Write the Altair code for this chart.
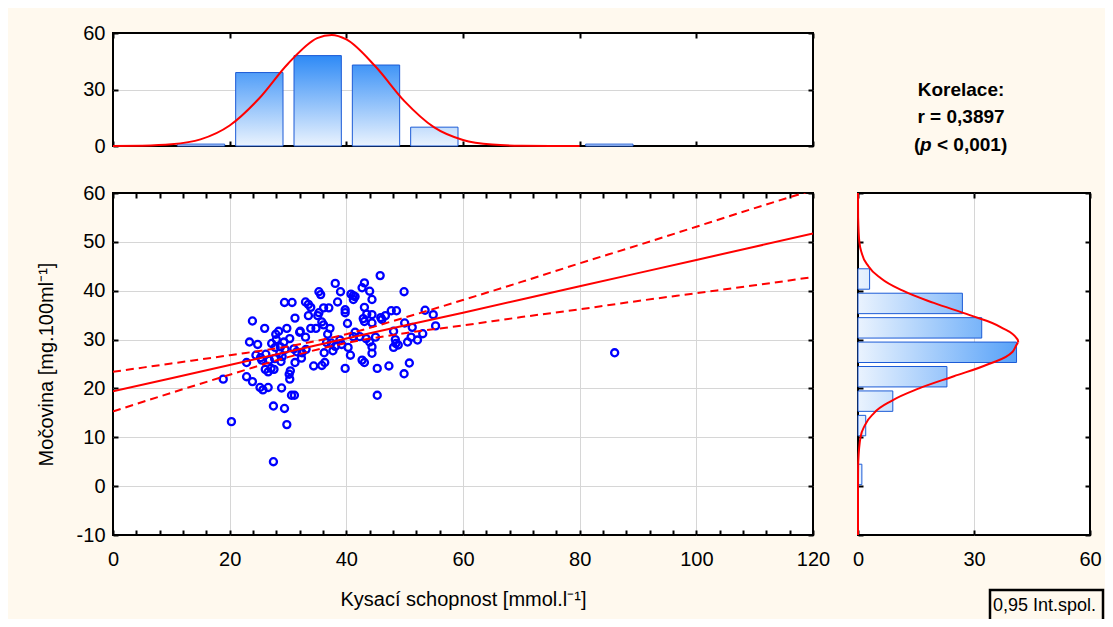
import altair as alt
import pandas as pd

BG = "#FFF9EE"
FONT = "Liberation Sans"

# ---------------- data ----------------
acid = [
    45.8, 38.1, 43.1, 42.7, 35.3, 35.6, 39.0, 40.8, 41.2, 44.0,
    49.9, 41.2, 44.4, 29.4, 30.7, 33.0, 33.5, 33.9, 37.0, 36.1,
    38.5, 39.8, 39.8, 43.1, 47.7, 48.6, 53.5, 54.9, 55.3, 46.7,
    45.9, 44.4, 43.5, 42.9, 43.1, 44.4, 33.5, 35.1, 35.3, 31.2,
    23.9, 26.0, 29.8, 32.1, 33.9, 34.8, 35.8, 36.1, 37.2, 36.8,
    40.2, 48.1, 50.0, 51.3, 53.1, 51.1, 52.2, 48.4, 48.5, 48.1,
    43.4, 42.3, 41.2, 40.3, 39.2, 37.4, 37.7, 36.2, 40.7, 44.4,
    44.4, 42.7, 43.1, 45.3, 47.3, 50.8, 49.9, 39.8, 34.4, 35.8,
    36.3, 45.3, 33.0, 32.0, 28.4, 27.9, 30.3, 29.3, 27.2, 24.8,
    23.4, 28.7, 31.0, 31.5, 32.4, 32.3, 31.2, 25.3, 26.8, 27.7,
    28.8, 22.9, 26.1, 26.6, 27.6, 30.4, 30.2, 30.3, 22.9, 23.9,
    18.9, 25.2, 25.7, 26.6, 28.9, 30.6, 31.1, 27.5, 29.4, 20.3,
    29.8, 27.5, 86.0,
    27.1, 25.5, 29.5, 27.8, 28.6, 26.2, 24.5, 28.0, 29.0,
    33.1, 36.6, 38.9, 38.1,
    41.5, 48.9, 46.1, 41.5, 45.0, 44.0, 50.5,
]
urea = [
    43.1, 41.5, 41.6, 40.6, 39.8, 39.2, 39.8, 39.3, 39.0, 39.9,
    39.8, 38.2, 38.2, 37.6, 37.6, 37.7, 37.2, 36.6, 36.5, 36.5,
    37.7, 36.1, 35.5, 36.6, 35.9, 35.9, 36.0, 35.1, 32.8, 34.9,
    34.5, 35.1, 35.2, 34.3, 33.7, 33.4, 34.9, 34.9, 35.5, 34.4,
    33.8, 32.3, 32.3, 31.7, 32.3, 32.3, 33.6, 33.0, 32.3, 31.1,
    33.3, 31.7, 33.4, 32.5, 31.2, 30.5, 29.9, 30.0, 29.2, 28.4,
    30.2, 30.6, 30.6, 28.4, 29.0, 29.3, 27.7, 27.3, 26.8, 28.5,
    27.2, 25.8, 25.3, 24.1, 24.6, 25.2, 23.0, 24.1, 24.6, 24.7,
    25.3, 18.6, 30.5, 31.5, 31.7, 31.1, 30.2, 29.5, 29.2, 29.0,
    29.5, 28.5, 28.1, 27.5, 27.3, 26.2, 25.3, 26.3, 25.8, 26.1,
    25.5, 25.3, 23.9, 23.4, 23.9, 23.6, 22.9, 21.9, 22.4, 21.4,
    21.9, 20.2, 19.7, 20.2, 20.1, 18.6, 18.6, 16.4, 15.9, 13.2,
    12.6, 5.0, 27.3,
    24.1, 25.8, 28.0, 28.4, 27.2, 27.0, 26.8, 30.0, 26.5,
    28.0, 29.4, 29.9, 28.6,
    38.8, 28.9, 34.1, 31.5, 30.5, 29.5, 29.5,
]

# regression line and 0.95 confidence band, read at x = 0, 10, ..., 120
fit_x = [0, 10, 20, 30, 40, 50, 60, 70, 80, 90, 100, 110, 120]
fit_y = [19.4, 22.1, 24.8, 27.5, 30.2, 32.9, 35.5, 38.2, 40.9, 43.6, 46.3, 49.0, 51.7]
fit_hi = [23.4, 25.1, 26.8, 28.6, 31.1, 34.5, 38.1, 41.8, 45.6, 49.3, 53.1, 56.9, 60.6]
fit_lo = [15.3, 19.1, 22.8, 26.4, 29.3, 31.3, 32.9, 34.6, 36.2, 37.9, 39.5, 41.1, 42.8]

# top histogram (Kysací schopnost)
top_lo = [10, 20, 30, 40, 50, 80]
top_hi = [20, 30, 40, 50, 60, 90]
top_n = [1, 39, 48, 43, 10, 1]
top_curve_x = [0, 5, 10, 15, 20, 25, 30, 35, 37.5, 40, 45, 50, 55, 60, 65, 70, 75, 80]
top_curve_n = [0.02, 0.16, 0.87, 3.5, 10.9, 25.1, 43.7, 57.3, 59.0, 56.6, 42.2, 23.7,
               10.0, 3.2, 0.77, 0.14, 0.02, 0.0]

# right histogram (Močovina)
right_lo = [0, 10, 15, 20, 25, 30, 35, 40]
right_hi = [5, 15, 20, 25, 30, 35, 40, 45]
right_n = [1, 2, 9, 23, 41, 32, 27, 3]
right_curve_y = [-10, 0, 5, 10, 12.5, 15, 17.5, 20, 22.5, 25, 27.5, 29.3, 30, 32.5, 35,
                 37.5, 40, 42.5, 45, 47.5, 50, 55, 60]
right_curve_n = [0, 0, 0.06, 0.65, 1.8, 4.2, 8.8, 15.8, 24.8, 33.8, 40.0, 41.5, 41.3, 37.0,
                 28.9, 19.6, 11.6, 6.0, 2.7, 1.04, 0.35, 0.03, 0]

corr_title = "Korelace:"
corr_r = "r = 0,3897"
p_parts = ["(", "p", "< 0,001)"]
legend_label = "0,95 Int.spol."
x_title = "Kysací schopnost [mmol.l⁻¹]"
y_title = "Močovina [mg.100ml⁻¹]"

x_main_ticks = list(range(0, 121, 4))
x_top_ticks = list(range(0, 121, 20))
y_main_ticks = list(range(-10, 61, 10))
count_ticks = [0, 30, 60]

# ---------------- helpers ----------------
W_MAIN, H_MAIN = 700, 342
W_SIDE, H_TOP = 232, 113
RED = "#FF0000"
GRID = "#D6D6D6"
LIGHT = (234, 243, 254)
DARK = (38, 134, 246)


def mix(t):
    t = max(0.0, min(1.0, t))
    r, g, b = (round(LIGHT[i] + (DARK[i] - LIGHT[i]) * t) for i in range(3))
    return f"#{r:02X}{g:02X}{b:02X}"


def axis(orient, values, labels=False, title="", grid_test=None, label_expr=None,
         pad=13, title_pad=18):
    kw = dict(orient=orient, values=values, labels=labels, domain=False, ticks=True,
              tickSize=alt.ExprRef(expr="-5"), tickColor="black", tickWidth=2,
              labelFlush=False, labelOverlap=False, labelFont=FONT, labelFontSize=20,
              labelColor="black", labelPadding=pad, title=title)
    if title:
        kw.update(titleFont=FONT, titleFontSize=20, titleFontWeight="normal",
                  titleColor="black", titlePadding=title_pad)
    if grid_test:
        kw.update(grid=True, gridWidth=1,
                  gridColor={"condition": {"test": grid_test, "value": GRID},
                             "value": "transparent"})
    else:
        kw["grid"] = False
    if label_expr:
        kw["labelExpr"] = label_expr
    return alt.Axis(**kw)


# ---------------- main scatter ----------------
scatter_df = pd.DataFrame({"x": acid, "y": urea})
fit_df = pd.DataFrame({"x": fit_x, "fit": fit_y, "lo": fit_lo, "hi": fit_hi})
xs_main = alt.Scale(domain=[0, 120], nice=False, zero=False)
ys_main = alt.Scale(domain=[-10, 60], nice=False, zero=False)

pts = alt.Chart(scatter_df).mark_point(
    filled=False, color="#0000FF", size=50, strokeWidth=2.3, opacity=1
).encode(
    x=alt.X("x:Q", scale=xs_main,
            axis=axis("bottom", x_main_ticks, labels=True, title=x_title,
                      grid_test="datum.value % 20 === 0 && datum.value > 0 && datum.value < 120",
                      label_expr="datum.value % 20 === 0 ? datum.label : ''",
                      pad=19, title_pad=20)),
    y=alt.Y("y:Q", scale=ys_main,
            axis=axis("left", y_main_ticks, labels=True, title=y_title,
                      grid_test="datum.value > -10 && datum.value < 60",
                      label_expr="toString(datum.value)",
                      pad=13, title_pad=20)),
)
fit_line = alt.Chart(fit_df).mark_line(color=RED, strokeWidth=2, clip=True).encode(
    x=alt.X("x:Q", scale=xs_main, axis=None),
    y=alt.Y("fit:Q", scale=ys_main, axis=None),
)
ci_lo_line = alt.Chart(fit_df).mark_line(
    color=RED, strokeWidth=2, strokeDash=[8, 5], interpolate="monotone", clip=True
).encode(
    x=alt.X("x:Q", scale=xs_main, axis=None),
    y=alt.Y("lo:Q", scale=ys_main, axis=None),
)
ci_hi_line = alt.Chart(fit_df).mark_line(
    color=RED, strokeWidth=2, strokeDash=[8, 5], interpolate="monotone", clip=True
).encode(
    x=alt.X("x:Q", scale=xs_main, axis=None),
    y=alt.Y("hi:Q", scale=ys_main, axis=None),
)
mirror_main = alt.Chart(scatter_df).mark_point(opacity=0).encode(
    x=alt.X("x:Q", scale=xs_main, axis=axis("top", x_main_ticks)),
    y=alt.Y("y:Q", scale=ys_main, axis=axis("right", y_main_ticks)),
)
main = alt.layer(pts, fit_line, ci_lo_line, ci_hi_line, mirror_main).resolve_axis(
    x="independent", y="independent"
).properties(width=W_MAIN, height=H_MAIN)

# ---------------- top histogram ----------------
top_df = pd.DataFrame({"lo": top_lo, "hi": top_hi, "n": top_n})
top_curve_df = pd.DataFrame({"x": top_curve_x, "n": top_curve_n})
xs_top = alt.Scale(domain=[0, 120], nice=False, zero=False)
ys_top = alt.Scale(domain=[0, 60], nice=False, zero=False)

top_layers = []
for i, (lo, n) in enumerate(zip(top_lo, top_n)):
    grad = alt.Gradient(
        gradient="linear",
        stops=[alt.GradientStop(color=mix(n / 50), offset=0),
               alt.GradientStop(color=mix(0), offset=1)],
        x1=0, x2=0, y1=0, y2=1,
    )
    if i == 0:
        xa = axis("bottom", x_top_ticks)
        ya = axis("left", count_ticks, labels=True, grid_test="datum.value === 30", pad=13)
    else:
        xa = None
        ya = None
    top_layers.append(
        alt.Chart(top_df).transform_filter(alt.datum.lo == lo).mark_bar(
            fill=grad, stroke="#1C5BD6", strokeWidth=1, binSpacing=11
        ).encode(
            x=alt.X("lo:Q", bin="binned", scale=xs_top, axis=xa),
            x2="hi:Q",
            y=alt.Y("n:Q", scale=ys_top, axis=ya),
        )
    )
top_curve = alt.Chart(top_curve_df).mark_line(
    color=RED, strokeWidth=2, interpolate="monotone"
).encode(
    x=alt.X("x:Q", scale=xs_top, axis=None),
    y=alt.Y("n:Q", scale=ys_top, axis=None),
)
mirror_top = alt.Chart(top_curve_df).mark_point(opacity=0).encode(
    x=alt.X("x:Q", scale=xs_top, axis=axis("top", x_top_ticks)),
    y=alt.Y("n:Q", scale=ys_top, axis=axis("right", count_ticks)),
)
top = alt.layer(*top_layers, top_curve, mirror_top).resolve_axis(
    x="independent", y="independent"
).properties(width=W_MAIN, height=H_TOP)

# ---------------- right histogram ----------------
right_df = pd.DataFrame({"lo": right_lo, "hi": right_hi, "n": right_n})
right_curve_df = pd.DataFrame({"y": right_curve_y, "n": right_curve_n})
xs_r = alt.Scale(domain=[0, 60], nice=False, zero=False)
ys_r = alt.Scale(domain=[-10, 60], nice=False, zero=False)

right_layers = []
for i, (lo, n) in enumerate(zip(right_lo, right_n)):
    grad = alt.Gradient(
        gradient="linear",
        stops=[alt.GradientStop(color=mix(0), offset=0),
               alt.GradientStop(color=mix(n / 55), offset=1)],
        x1=0, x2=1, y1=0, y2=0,
    )
    if i == 0:
        xa = axis("bottom", count_ticks, labels=True, grid_test="datum.value === 30", pad=19)
        ya = axis("left", y_main_ticks)
    else:
        xa = None
        ya = None
    right_layers.append(
        alt.Chart(right_df).transform_filter(alt.datum.lo == lo).mark_bar(
            fill=grad, stroke="#1C5BD6", strokeWidth=1, binSpacing=4, orient="horizontal"
        ).encode(
            x=alt.X("n:Q", scale=xs_r, axis=xa),
            y=alt.Y("lo:Q", bin="binned", scale=ys_r, axis=ya),
            y2="hi:Q",
        )
    )
right_curve = alt.Chart(right_curve_df).mark_line(
    color=RED, strokeWidth=2, interpolate="monotone"
).encode(
    x=alt.X("n:Q", scale=xs_r, axis=None),
    y=alt.Y("y:Q", scale=ys_r, axis=None),
    order="y:Q",
)
mirror_right = alt.Chart(right_curve_df).mark_point(opacity=0).encode(
    x=alt.X("n:Q", scale=xs_r, axis=axis("top", count_ticks)),
    y=alt.Y("y:Q", scale=ys_r, axis=axis("right", y_main_ticks)),
)
legend_df = pd.DataFrame({"label": [legend_label]})
legend_box = alt.Chart(legend_df).mark_rect(
    fill=BG, stroke="black", strokeWidth=2.5
).encode(x=alt.value(132), x2=alt.value(245), y=alt.value(397), y2=alt.value(430))
legend_text = alt.Chart(legend_df).mark_text(
    align="left", baseline="middle", font=FONT, fontSize=18, color="black"
).encode(x=alt.value(135), y=alt.value(413), text="label:N")

right = alt.layer(*right_layers, right_curve, mirror_right, legend_box, legend_text).resolve_axis(
    x="independent", y="independent"
).properties(width=W_SIDE, height=H_MAIN)

# ---------------- correlation text panel ----------------
t1 = alt.Chart(pd.DataFrame({"t": [corr_title]})).mark_text(
    font=FONT, fontSize=19, fontWeight="bold", color="black", align="center", baseline="middle"
).encode(x=alt.value(103), y=alt.value(57), text="t:N")
t2 = alt.Chart(pd.DataFrame({"t": [corr_r]})).mark_text(
    font=FONT, fontSize=19, fontWeight="bold", color="black", align="center", baseline="middle"
).encode(x=alt.value(103), y=alt.value(84), text="t:N")
p1 = alt.Chart(pd.DataFrame({"t": [p_parts[0]]})).mark_text(
    font=FONT, fontSize=19, fontWeight="bold", color="black", align="left", baseline="middle"
).encode(x=alt.value(56), y=alt.value(112), text="t:N")
p2 = alt.Chart(pd.DataFrame({"t": [p_parts[1]]})).mark_text(
    font=FONT, fontSize=19, fontWeight="bold", fontStyle="italic", color="black",
    align="left", baseline="middle"
).encode(x=alt.value(62), y=alt.value(112), text="t:N")
p3 = alt.Chart(pd.DataFrame({"t": [p_parts[2]]})).mark_text(
    font=FONT, fontSize=19, fontWeight="bold", color="black", align="left", baseline="middle"
).encode(x=alt.value(79), y=alt.value(112), text="t:N")
corr_panel = alt.layer(t1, t2, p1, p2, p3).properties(
    width=W_SIDE, height=H_TOP,
    view=alt.ViewBackground(fill="transparent", stroke="transparent"),
)

# ---------------- assemble ----------------
chart = alt.concat(
    top, corr_panel, main, right,
    columns=2, spacing={"row": 47, "column": 45}, bounds="flush", align="each",
).properties(
    autosize=alt.AutoSizeParams(type="none"),
    padding={"left": 105, "top": 25, "right": 992, "bottom": 586},
).configure(background=BG).configure_view(stroke="black", strokeWidth=2, fill="white")

chart.save("out.html", embed_options={"renderer": "svg", "actions": False})
